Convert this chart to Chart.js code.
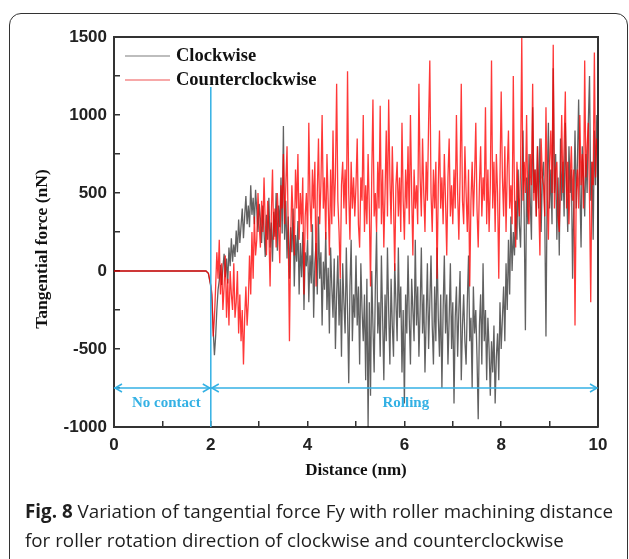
<!DOCTYPE html>
<html lang="en">

<head>
    <meta charset="UTF-8">
    <title>Tangential force Fy vs distance</title>
    <script src="https://cdn.jsdelivr.net/npm/chart.js"></script>
    <style>
        body {
            margin: 0;
            width: 629px;
            height: 559px;
            overflow: hidden;
            background: #fff;
            position: relative;
        }

        #frame {
            position: absolute;
            left: 9px;
            top: 13px;
            width: 619px;
            height: 570px;
            border: 1.5px solid #333;
            border-radius: 12px;
            box-sizing: border-box;
        }

        #chart-container {
            position: absolute;
            left: 0;
            top: 0;
            width: 629px;
            height: 500px;
        }

        #caption {
            position: absolute;
            left: 25px;
            top: 497px;
            font-family: "Open Sans", sans-serif;
            font-size: 18.8px;
            line-height: 29px;
            color: #1e1e1e;
            white-space: nowrap;
        }
    </style>
</head>

<body>
    <div id="frame"></div>
    <div id="chart-container">
        <canvas id="forceChart"></canvas>
    </div>
    <div id="caption"><b>Fig. 8</b> Variation of tangential force Fy with roller machining distance<br>for roller rotation direction of clockwise and counterclockwise</div>

    <script>
        // no contact part (both curves sit on 0 then dip at first contact)
        const flatDistance = [0, 1.9, 1.95, 2.0];
        const flatCW = [0, 0, -15, -100];
        const flatCCW = [0, 0, -15, -90];

        // rolling part, one value every 0.025 nm from 2.025 nm
        const rollStart = 2.025;
        const rollStep = 0.025;
        const clockwise = [
            -200, -380, -540, -420, -250, -120, -60, 40, -90, 20,
            110, -40, 80, -80, 150, 30, 210, 60, 170, 90,
            260, 120, 330, 180, 290, 400, 210, 350, 480, 300,
            420, 280, 550, 360, 470, 300, 520, 390, 250, 430,
            330, 180, 420, 250, 90, 360, 200, 470, 150, 310,
            60, 380, 220, 500, 130, 420, 280, 600, 240, 930,
            200, 450, 80, 350, -50, 280, 120, 400, -100, 230,
            60, 320, -150, 180, -40, 250, -250, 120, 30, 200,
            -200, 100, -80, 300, -300, 50, 180, -150, 350, -50,
            120, -350, 60, -120, 250, -250, 20, -400, 150, -100,
            -300, 80, -500, -150, 100, -350, -50, -550, 50, -200,
            -400, 150, -250, -720, -100, 200, -450, -150, -300, 100,
            -350, -100, -600, 50, -250, -450, -150, -700, -50, -1000,
            -200, -800, 0, -350, -650, -100, 250, -400, -200, -550,
            100, -300, -700, -150, -450, 150, -250, -600, -50, -350,
            -550, 50, -200, -450, 150, -300, -100, -650, -250, -850,
            -150, -400, 100, -300, -600, -50, -250, -450, 200, -350,
            -100, -550, -250, 150, -400, -150, -650, -300, 50, -500,
            -200, 100, -350, -600, -100, -450, 150, -300, -550, -150,
            -750, -250, 100, -400, -150, -600, -300, 50, -500, -200,
            -850, -300, -100, -550, -250, 0, -700, -350, -150, -450,
            -600, -200, 100, -450, -300, -750, -100, -400, -250, -550,
            -950, -350, -150, -600, 50, -450, -250, -700, -300, -500,
            -800, -450, -650, -350, -850, -550, -400, -700, -200, -500,
            -300, -100, -450, 50, -250, 200, -150, 350, 0, 250,
            100, 450, 200, 650, 300, 150, 550, 900, 350, -380,
            600, 300, 750, 450, 200, 1050, 500, 650, 350, 800,
            400, 850, 250, 600, 700, 350, -420, 550, 950, 400,
            650, 300, 1300, 500, 750, 200, 600, 100, 850, 450,
            700, 350, 950, 550, 250, 800, 500, 650, -50, 450,
            900, 400, 700, 1100, 550, 150, 800, 600, 350, 750,
            500, 950, 1250, 450, 700, 200, 900, 550, 1000, 650
        ];
        const counterclockwise = [
            -150, -420, -300, -100, 120, -50, 200, -150, 50, -250,
            -100, 100, -300, -50, -350, 0, -150, -250, 50, -300,
            -200, 0, -400, -150, -450, -250, -600, -300, -100, -350,
            -200, 100, -150, 250, -50, 350, 100, 200, 500, 300,
            150, 450, 250, 600, 300, 100, 450, 250, -100, 350,
            650, 200, 400, 150, 500, 300, 50, 550, 400, 750,
            300, 550, 800, 250, -450, 200, 550, 350, 100, 650,
            400, 750, 200, 500, 300, 600, -150, 350, 500, 200,
            950, 450, 250, 650, 400, 700, -100, 500, 850, 300,
            550, 1000, 400, 600, 200, 750, 450, 100, 650, 300,
            900, 350, 600, 1200, 450, 250, -50, 550, 700, 400,
            650, 300, 1280, 500, 200, 700, 400, 600, 350, 550,
            850, 300, 150, 600, 450, 1000, 250, 550, 300, 750,
            400, -100, 600, 1100, 350, 500, 250, 700, 400, 1060,
            300, 650, 150, 500, 900, 350, 1100, 600, 300, 800,
            450, 0, 550, 700, 350, 600, 250, 950, 450, 200,
            650, 400, 800, 300, 1000, 500, 100, 650, 400, 550,
            300, 1200, 600, 350, 850, 500, 250, 700, 450, 950,
            1350, 500, 250, 650, 400, 700, -50, 550, 900, 400,
            600, 300, 750, 450, 100, 600, 850, 350, 550, 300,
            650, 400, 1000, 500, 200, 600, 1200, 450, 300, 800,
            500, 250, 650, -100, 450, 700, 350, 600, 950, 400,
            150, 550, 800, 350, 600, 450, 1050, 300, 650, 250,
            550, 1350, 400, 700, 250, 750, 500, -50, 600, 1150,
            600, 350, 800, 250, 650, 900, 400, 550, 300, 1250,
            450, 150, 700, 500, 350, 650, 1500, 450, 700, 500,
            1000, 400, 300, 750, 550, 1200, 450, 650, 350, 800,
            450, 100, 850, 600, 550, 350, 1050, 500, 200, 700,
            900, 500, 1450, 400, 650, 700, 350, 250, 600, 1000,
            500, 800, 1150, 400, 700, 300, 600, 800, 450, 650,
            -350, 500, 650, 400, 1000, 550, 750, 400, 1350, 600,
            800, 950, 450, -200, 700, 550, 1400, 600, 850, 700
        ];

        // blue annotations
        const contactAt = 2;
        const dividerTop = 1180;
        const arrowLevel = -750;
        const arrowTips = [[0, -1], [2, 1], [2, -1], [10, 1]];
        const regionLabels = [['No contact', 1.08, -850], ['Rolling', 6.03, -850]];
        const legendOrder = ['Clockwise', 'Counterclockwise'];

        const blue = '#34b1e4';

        function toPoints(flatY, rollY) {
            const pts = flatDistance.map((d, i) => ({ x: d, y: flatY[i] }));
            rollY.forEach((v, i) => pts.push({ x: +(rollStart + i * rollStep).toFixed(3), y: v }));
            return pts;
        }

        const annotate = {
            id: 'annotate',
            afterDraw(chart) {
                const { ctx, chartArea: a, scales: { x, y } } = chart;
                ctx.save();
                // top and right side of the box
                ctx.strokeStyle = '#333';
                ctx.lineWidth = 2;
                ctx.beginPath();
                ctx.moveTo(a.left, a.top);
                ctx.lineTo(a.right, a.top);
                ctx.lineTo(a.right, a.bottom);
                ctx.stroke();

                // arrow heads
                ctx.strokeStyle = blue;
                ctx.lineWidth = 1.5;
                const ay = y.getPixelForValue(arrowLevel);
                arrowTips.forEach(([v, dir]) => {
                    const px = x.getPixelForValue(v) + (dir > 0 ? -1 : 1);
                    ctx.beginPath();
                    ctx.moveTo(px - dir * 7, ay - 4);
                    ctx.lineTo(px, ay);
                    ctx.lineTo(px - dir * 7, ay + 4);
                    ctx.stroke();
                });

                ctx.fillStyle = blue;
                ctx.font = 'bold 15px "Liberation Serif"';
                ctx.textAlign = 'center';
                ctx.textBaseline = 'middle';
                regionLabels.forEach(([t, vx, vy]) => {
                    ctx.fillText(t, x.getPixelForValue(vx), y.getPixelForValue(vy));
                });

                // legend inside the plot
                ctx.font = 'bold 18.5px "Liberation Serif"';
                ctx.textAlign = 'left';
                ctx.fillStyle = '#111';
                legendOrder.forEach((name, i) => {
                    const ds = chart.data.datasets.find(d => d.label === name);
                    const ly = a.top + 19 + i * 24;
                    ctx.strokeStyle = ds.legendColor;
                    ctx.lineWidth = 1.5;
                    ctx.beginPath();
                    ctx.moveTo(a.left + 11, ly);
                    ctx.lineTo(a.left + 56, ly);
                    ctx.stroke();
                    ctx.fillText(ds.label, a.left + 62, ly);
                });

                // axis titles
                ctx.fillStyle = '#111';
                ctx.font = 'bold 17px "Liberation Serif"';
                ctx.textAlign = 'center';
                ctx.fillText('Distance (nm)', (a.left + a.right) / 2, a.bottom + 44);
                ctx.font = 'bold 17.5px "Liberation Serif"';
                ctx.translate(42, a.top + 212);
                ctx.rotate(-Math.PI / 2);
                ctx.fillText('Tangential force (nN)', 0, 0);
                ctx.restore();
            }
        };

        const tickFont = { family: '"Liberation Sans", Arial', size: 17, weight: 'bold' };

        new Chart(document.getElementById('forceChart'), {
            type: 'line',
            data: {
                datasets: [
                    {
                        label: 'Clockwise',
                        data: toPoints(flatCW, clockwise),
                        borderColor: 'rgba(0, 0, 0, 0.62)',
                        legendColor: 'rgba(0, 0, 0, 0.35)',
                        borderWidth: 1.3,
                        pointRadius: 0,
                        order: 2
                    },
                    {
                        label: 'Counterclockwise',
                        data: toPoints(flatCCW, counterclockwise),
                        borderColor: 'rgba(255, 0, 0, 0.78)',
                        legendColor: 'rgba(240, 90, 90, 0.7)',
                        borderWidth: 1.3,
                        pointRadius: 0,
                        order: 1
                    },
                    {
                        label: 'divider',
                        data: [{ x: contactAt, y: dividerTop }, { x: contactAt, y: -1000 }],
                        borderColor: blue,
                        borderWidth: 1.5,
                        pointRadius: 0,
                        order: 0
                    },
                    {
                        label: 'arrow',
                        data: [{ x: 0, y: arrowLevel }, { x: 10, y: arrowLevel }],
                        borderColor: blue,
                        borderWidth: 1.5,
                        pointRadius: 0,
                        order: 0
                    }
                ]
            },
            options: {
                responsive: true,
                maintainAspectRatio: false,
                animation: false,
                layout: { padding: { left: 0, right: 31, top: 37, bottom: 0 } },
                plugins: {
                    legend: { display: false },
                    tooltip: { enabled: false }
                },
                scales: {
                    x: {
                        type: 'linear',
                        min: 0,
                        max: 10,
                        afterFit: s => { s.height = 73; },
                        grid: { drawOnChartArea: false, tickLength: -6, color: '#333', lineWidth: 1.5 },
                        border: { display: true, color: '#333', width: 2 },
                        ticks: {
                            stepSize: 1,
                            padding: 14,
                            color: '#222',
                            font: tickFont,
                            maxRotation: 0,
                            callback: v => (v % 2 === 0 ? v : '')
                        }
                    },
                    y: {
                        min: -1000,
                        max: 1500,
                        afterFit: s => { s.width = 114; },
                        grid: { drawOnChartArea: false, tickLength: -6, color: '#333', lineWidth: 1.5 },
                        border: { display: true, color: '#333', width: 2 },
                        ticks: {
                            stepSize: 250,
                            padding: 13,
                            color: '#222',
                            font: tickFont,
                            callback: v => (v % 500 === 0 ? v : '')
                        }
                    }
                }
            },
            plugins: [annotate]
        });
    </script>
</body>

</html>
